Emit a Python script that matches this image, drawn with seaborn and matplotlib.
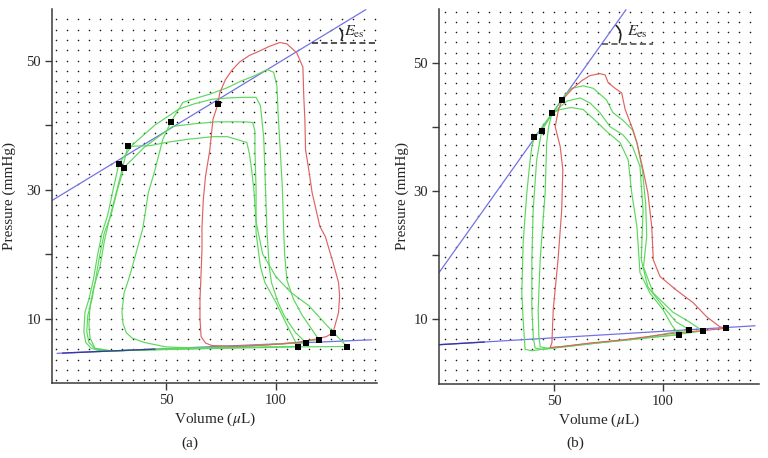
import numpy as np
import pandas as pd
import matplotlib
matplotlib.use("Agg")
import matplotlib.pyplot as plt
import seaborn as sns

# ---------------- Panel (a) data ----------------
red_a_v = [126, 128.5, 129, 128.5, 126, 122.5, 120, 116.5, 115, 113.5, 113.2, 112.7, 112.3, 109.5, 105, 101.8, 97, 92.7, 88, 83.6,
           80, 77, 74.5, 73.6, 71.4, 70, 68, 67, 66.4, 66.4, 66, 65.5, 65.5, 66, 68, 71, 80, 90, 100, 110, 118, 123, 126]
red_a_p = [7.8, 10.9, 13.5, 15.6, 18.7, 22.7, 24.3, 29.5, 33, 36.2, 40.9, 44.4, 49, 51.2, 52.6, 52.8, 52.2, 51.5, 50.8, 49.8,
           48.5, 47, 45, 43.2, 40.9, 36.2, 32, 28.4, 24, 20.7, 17, 13, 10, 7.2, 6.2, 5.8, 5.7, 5.8, 6.0, 6.3, 6.8, 7.2, 7.8]

ga4_v = [119.5, 116, 112, 108, 105, 104, 103.5, 103, 102, 101, 100.5, 99, 96, 90, 84, 78, 70, 62, 57.7, 52.3,
         48.6, 45, 42, 39.5, 36, 33, 31, 30, 30.5, 32, 34.5, 40, 50, 65, 80, 95, 110, 119.5]
ga4_p = [6.74, 8.5, 10.5, 13, 16, 20, 24, 30, 36, 42, 46, 48.2, 48.6, 47.6, 46.8, 45.8, 44.8, 44, 43.5, 40.5,
         37.8, 33, 29.5, 24, 19.6, 16, 14, 11, 9.2, 7.8, 7.0, 6.3, 5.6, 5.4, 5.6, 5.9, 6.3, 6.74]

ga1_v = [113.6, 109, 104, 101, 98, 97, 96, 95.5, 95, 94.5, 93, 91, 85, 78, 71, 63, 56, 45, 35, 28.6,
         26, 23.5, 21, 19, 17, 15, 13.2, 12.7, 13.5, 16, 20, 30, 50, 80, 100, 113.6]
ga1_p = [6.28, 7.8, 10.3, 12.5, 15.6, 18, 23.3, 28, 33, 38, 43, 44.3, 44.3, 44.2, 44, 43.3, 42.5, 40, 37, 34,
         30, 26, 23.3, 20, 16, 13, 11, 8, 6.3, 5.4, 5.0, 5.0, 5.3, 5.6, 6.0, 6.28]

ga2_v = [110, 105, 100, 95, 93, 91, 91, 90.5, 90.5, 89.5, 86, 80, 73, 63, 53, 40, 30.9, 28, 25, 22,
         20, 18, 16.4, 14.5, 14, 15, 18, 25, 40, 60, 80, 95, 110]
ga2_p = [5.66, 9, 12.5, 15.6, 18, 23.3, 30, 36, 39, 40.4, 40.5, 40.5, 40.5, 40.2, 39.8, 36.5, 33.4, 30, 26, 23.3,
         20, 16, 13, 10.5, 8, 6.3, 5.2, 5.0, 5.1, 5.3, 5.5, 5.6, 5.66]

ga3_v = [132.3, 123, 115, 107, 100, 94, 91, 90, 89, 88, 86.8, 78, 71.4, 60, 50, 42.7, 32.7, 30, 27, 24,
         22, 20, 17.3, 15.5, 15, 15.5, 17.7, 25, 50, 80, 110, 132.3]
ga3_p = [5.66, 9, 12, 14, 16.5, 20, 25, 30, 33, 35.5, 37.3, 38.2, 38.2, 37.8, 37.3, 36.8, 36.7, 33, 29, 25,
         22, 18, 15, 12, 9, 7, 5.4, 5.0, 5.2, 5.4, 5.6, 5.66]

es_a_v = [28.6, 30.9, 32.7, 52.3, 73.6]
es_a_p = [34.0, 33.4, 36.7, 40.5, 43.2]
ed_a_v = [110, 113.6, 119.5, 125.9, 132.3]
ed_a_p = [5.66, 6.28, 6.74, 7.83, 5.66]

espvr_a_v = [-1.8, 140.9]
espvr_a_p = [28.3, 57.9]
edpvr_a_v = [0.5, 143.6]
edpvr_a_p = [4.6, 6.7]
edpvr_dark_a_v = [3, 45]
edpvr_dark_a_p = [4.64, 5.26]

# ---------------- Panel (b) data ----------------
red_b_v = [128.8, 126, 120, 113.8, 106, 98.6, 95.5, 94.8, 93, 90.8, 88, 86.2, 82.6, 81, 78, 74.8, 73.4, 71, 66.5, 62.7,
           58, 53.8, 52, 50.5, 52.8, 54, 53.5, 51.8, 49.6, 49, 48.2, 55, 66.5, 81.7, 106.4, 120, 128.8]
red_b_p = [8.5, 8.75, 10.3, 12.5, 14.5, 16.6, 19.2, 24.4, 29.7, 33.3, 37.5, 39.5, 42.7, 45.3, 46, 46.9, 48.1, 48.3, 48, 47.2,
           45.8, 44.2, 42.7, 40, 36.9, 33.3, 27, 19.2, 11.4, 6.25, 5.5, 5.7, 6.2, 6.7, 7.8, 8.2, 8.5]

gb1_v = [118.2, 112, 104.6, 95.5, 91, 92.5, 92, 90.5, 88, 86, 81.6, 77, 74, 68, 63.3, 58, 55, 50, 45, 41,
         39.8, 39, 37.5, 35.8, 35.2, 35.8, 36.7, 40, 48, 66.5, 81.7, 106, 118.2]
gb1_p = [8.1, 9.5, 11, 14, 18.1, 22.9, 28, 33.3, 37.5, 39.5, 41, 42.2, 44.2, 46, 46.4, 46, 45, 42.5, 40.2, 38.4,
         36.9, 34.8, 29.7, 21.9, 14, 9.8, 5.2, 5.0, 5.4, 6.1, 6.6, 7.5, 8.1]

gb2_v = [112, 106, 100, 93, 90, 90.8, 89.4, 86, 81.7, 75.7, 71, 66.5, 62, 55.8, 49, 44.4, 43.6, 42, 40.4, 39.8,
         39.8, 40.5, 41.3, 45, 55, 70, 90, 112]
gb2_p = [8.3, 9.5, 11.9, 15, 19.2, 27, 33.8, 36.9, 38.7, 40, 42.2, 43.7, 44.5, 44, 42, 39.4, 38, 34.8, 27, 19.2,
         11.4, 7, 5.4, 5.2, 5.6, 6.2, 7.0, 8.3]

gb3_v = [107.3, 104, 100, 94, 89.4, 88, 85.6, 84, 80.3, 74, 69.5, 63.3, 58, 52.8, 49, 47.5, 46.6, 45.9, 43.6, 42.7,
         43, 43.6, 47, 60, 80, 107.3]
gb3_p = [7.5, 9, 11.4, 14, 17.2, 24.4, 29.7, 34.8, 37.5, 39.3, 40.8, 42.7, 43, 42.7, 42.1, 40, 37.5, 29.7, 19.2, 11.4,
         7.5, 5.6, 5.4, 5.9, 6.6, 7.5]

es_b_v = [41, 44.4, 49, 53.8]
es_b_p = [38.4, 39.4, 42.1, 44.2]
ed_b_v = [107.3, 112, 118.2, 128.8]
ed_b_p = [7.5, 8.3, 8.1, 8.5]

espvr_b_v = [-2.8, 83]
espvr_b_p = [17.2, 58.3]
edpvr_b_v = [-2.8, 142.2]
edpvr_b_p = [5.94, 8.9]
edpvr_dark_b_v = [-2.8, 18]
edpvr_dark_b_p = [5.94, 6.36]

x_ticks = [50, 100]
y_ticks = [10, 30, 50]
y_minor = [20, 40]

# ---------------- styling ----------------
sns.set_theme(style="white")
plt.rcParams['font.family'] = ['Liberation Serif', 'DejaVu Serif']
plt.rcParams['mathtext.fontset'] = 'stix'

GREEN = "#5cd85c"
RED = "#e06262"
BLUE = "#7272e6"
NAVY = "#2b2b99"
INK = "#3a3a3a"

fig = plt.figure(figsize=(7.68, 4.58), dpi=100)
axa = fig.add_axes([52 / 768, 1 - 383 / 458, 325 / 768, 374 / 458])
axb = fig.add_axes([439 / 768, 1 - 384 / 458, 320 / 768, 375 / 458])


def loop(ax, v, p, color):
    df = pd.DataFrame({"V": v, "P": p})
    sns.lineplot(data=df, x="V", y="P", sort=False, estimator=None,
                 color=color, lw=0.85, ax=ax, zorder=3)


def setup(ax, xlim, ylim, ylab_x):
    ax.set_xlim(*xlim)
    ax.set_ylim(*ylim)
    gx = np.arange(0, xlim[1], 5)
    gy = np.arange(0.4, ylim[1], 1.6)
    xx, yy = np.meshgrid(gx, gy)
    ax.scatter(xx.ravel(), yy.ravel(), s=1.3, c="#1a1a1a", linewidths=0, zorder=1)
    for s in ["top", "right"]:
        ax.spines[s].set_visible(False)
    for s in ["left", "bottom"]:
        ax.spines[s].set_color(INK)
        ax.spines[s].set_linewidth(1.1)
    ax.set_xticks(x_ticks)
    ax.set_yticks(y_ticks)
    ax.set_yticks(y_minor, minor=True)
    ax.tick_params(axis="both", which="both", direction="out", length=5, width=1,
                   color=INK, labelsize=10.5, pad=3, left=True, bottom=True)
    ax.set_xlabel(r"Volume ($\mu$L)", fontsize=11)
    ax.set_ylabel("Pressure (mmHg)", fontsize=11)
    ax.xaxis.set_label_coords(0.5, -0.075)
    ax.yaxis.set_label_coords(ylab_x, 0.5)


setup(axa, (-1.8, 146), (0, 58), -0.11)
setup(axb, (-2.8, 144), (-0.2, 58.4), -0.095)

# panel (a)
sns.lineplot(x=espvr_a_v, y=espvr_a_p, color=BLUE, lw=0.9, ax=axa, zorder=2)
sns.lineplot(x=edpvr_a_v, y=edpvr_a_p, color=BLUE, lw=0.9, ax=axa, zorder=2)
for v, p in [(ga1_v, ga1_p), (ga2_v, ga2_p), (ga3_v, ga3_p), (ga4_v, ga4_p)]:
    loop(axa, v, p, GREEN)
loop(axa, red_a_v, red_a_p, RED)
sns.lineplot(x=edpvr_dark_a_v, y=edpvr_dark_a_p, color=NAVY, lw=1.0, alpha=0.85, ax=axa, zorder=4)
sns.scatterplot(x=es_a_v + ed_a_v, y=es_a_p + ed_a_p, marker="s", s=15, color="black",
                edgecolor="black", linewidth=0, ax=axa, zorder=5)
axa.plot([116.4, 146], [52.8, 52.8], ls=(0, (4, 2.2)), color="#222222", lw=1.1, zorder=4, clip_on=False)
axa.annotate("", xy=(128.2, 55.3), xytext=(129.1, 52.8),
             arrowprops=dict(arrowstyle="-", color="#222222", lw=1.2,
                             connectionstyle="arc3,rad=0.45"), zorder=4)
axa.text(131.2, 54.4, r"$E_{\mathrm{es}}$", fontsize=11.5, ha="left", va="center", zorder=4)

# panel (b)
sns.lineplot(x=espvr_b_v, y=espvr_b_p, color=BLUE, lw=0.9, ax=axb, zorder=2)
sns.lineplot(x=edpvr_b_v, y=edpvr_b_p, color=BLUE, lw=0.9, ax=axb, zorder=2)
for v, p in [(gb1_v, gb1_p), (gb2_v, gb2_p), (gb3_v, gb3_p)]:
    loop(axb, v, p, GREEN)
loop(axb, red_b_v, red_b_p, RED)
sns.lineplot(x=edpvr_dark_b_v, y=edpvr_dark_b_p, color=NAVY, lw=1.0, alpha=0.85, ax=axb, zorder=4)
sns.scatterplot(x=es_b_v + ed_b_v, y=es_b_p + ed_b_p, marker="s", s=15, color="black",
                edgecolor="black", linewidth=0, ax=axb, zorder=5)
axb.plot([72, 95.4], [53, 53], ls=(0, (4, 2.2)), color="#444444", lw=1.1, zorder=4)
axb.annotate("", xy=(77.5, 56.1), xytext=(79.4, 53.0),
             arrowprops=dict(arrowstyle="-", color="#222222", lw=1.2,
                             connectionstyle="arc3,rad=0.45"), zorder=4)
axb.text(83.3, 54.8, r"$E_{\mathrm{es}}$", fontsize=11.5, ha="left", va="center", zorder=4)

fig.text(190 / 768, 1 - 443 / 458, "(a)", ha="center", va="center", fontsize=11)
fig.text(575 / 768, 1 - 443 / 458, "(b)", ha="center", va="center", fontsize=11)

fig.savefig("out.png", dpi=100)
